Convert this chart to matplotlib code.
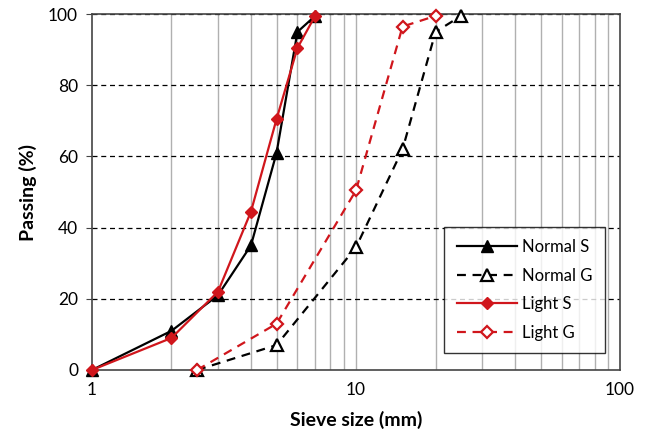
import matplotlib
matplotlib.use("Agg")
import matplotlib.pyplot as plt
from matplotlib.ticker import FixedLocator, NullFormatter

plt.rcParams['font.family'] = ['Lato', 'DejaVu Sans']

normal_s_x = [1, 2, 3, 4, 5, 6, 7]
normal_s_y = [0, 11, 21, 35, 61, 95, 99.5]
normal_g_x = [2.5, 5, 10, 15, 20, 25]
normal_g_y = [0, 7, 34.5, 62, 95, 99.5]
light_s_x = [1, 2, 3, 4, 5, 6, 7]
light_s_y = [0, 9, 22, 44.5, 70.5, 90.5, 99.5]
light_g_x = [2.5, 5, 10, 15, 20]
light_g_y = [0, 13, 50.5, 96.5, 99.5]

red = '#D0161C'

fig = plt.figure(figsize=(6.5, 4.41), dpi=100)
ax = fig.add_axes([0.1415, 0.161, 0.8125, 0.807])

ax.set_xscale('log')
ax.set_xlim(1, 100)
ax.set_ylim(0, 100)

minor = [v * d for d in (1, 10) for v in range(2, 10)] + [10]
for v in minor:
    ax.axvline(v, color='#b0b0b0', lw=1.0, zorder=0)
for v in [20, 40, 60, 80, 100]:
    ax.axhline(v, color='black', lw=0.9, ls=(0, (4, 3)), zorder=0.5)

ax.plot(normal_s_x, normal_s_y, color='black', lw=1.6, marker='^', ms=8,
        mfc='black', mec='black', label='Normal S', zorder=3, clip_on=False)
ax.plot(normal_g_x, normal_g_y, color='black', lw=1.6, ls=(0, (4, 3)), marker='^', ms=8,
        mfc='white', mec='black', mew=1.6, label='Normal G', zorder=3, clip_on=False)
ax.plot(light_s_x, light_s_y, color=red, lw=1.6, marker='D', ms=6.5,
        mfc=red, mec=red, label='Light S', zorder=4, clip_on=False)
ax.plot(light_g_x, light_g_y, color=red, lw=1.6, ls=(0, (4, 3)), marker='D', ms=6.5,
        mfc='white', mec=red, mew=1.6, label='Light G', zorder=4, clip_on=False)

ax.set_xticks([1, 10, 100])
ax.set_xticklabels(['1', '10', '100'])
ax.xaxis.set_minor_locator(FixedLocator([]))
ax.xaxis.set_minor_formatter(NullFormatter())
ax.set_yticks([0, 20, 40, 60, 80, 100])
ax.tick_params(axis='both', labelsize=12.5, length=4, color='#444444')
ax.tick_params(axis='x', length=0, pad=9)
ax.tick_params(axis='y', pad=6)

for s in ax.spines.values():
    s.set_color('#444444')
    s.set_linewidth(1.2)

ax.set_xlabel('Sieve size (mm)', fontsize=14, fontweight='bold', labelpad=9)
ax.set_ylabel('Passing (%)', fontsize=14, fontweight='bold', labelpad=8)

leg = ax.legend(loc='lower right', bbox_to_anchor=(0.971, 0.047), fontsize=12,
                frameon=True, fancybox=False, edgecolor='black', labelspacing=0.75,
                handlelength=3.6, borderpad=0.75, handletextpad=0.3, borderaxespad=0)
leg.get_frame().set_linewidth(1.0)

fig.savefig('out.png', dpi=100)
